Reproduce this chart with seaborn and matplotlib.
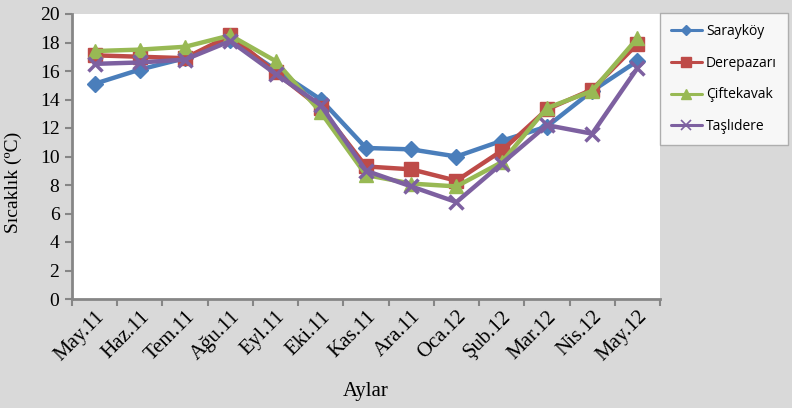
import numpy as np
import pandas as pd
import matplotlib
matplotlib.use("Agg")
import matplotlib.pyplot as plt
import seaborn as sns

months = ["May.11", "Haz.11", "Tem.11", "Ağu.11", "Eyl.11", "Eki.11", "Kas.11",
          "Ara.11", "Oca.12", "Şub.12", "Mar.12", "Nis.12", "May.12"]
saraykoy = [15.1, 16.1, 16.9, 18.2, 16.1, 14.0, 10.6, 10.5, 10.0, 11.1, 12.1, 14.6, 16.7]
derepazari = [17.1, 17.0, 16.9, 18.5, 15.9, 13.4, 9.3, 9.1, 8.3, 10.4, 13.3, 14.7, 17.9]
ciftekavak = [17.4, 17.5, 17.7, 18.5, 16.7, 13.1, 8.7, 8.1, 7.9, 9.6, 13.4, 14.6, 18.3]
tasli = [16.5, 16.6, 16.8, 18.1, 15.8, 13.6, 9.0, 7.9, 6.8, 9.5, 12.2, 11.6, 16.2]

series_names = ["Sarayköy", "Derepazarı", "Çiftekavak", "Taşlıdere"]
series_vals = [saraykoy, derepazari, ciftekavak, tasli]
colors = ["#4A7EBB", "#BE4B48", "#98B954", "#7D60A0"]
markers = ["D", "s", "^", "x"]
msizes = [8, 10, 10, 10]

sns.set_style("white")
plt.rcParams["font.family"] = ["Liberation Serif", "DejaVu Serif"]
plt.rcParams["text.color"] = "black"
plt.rcParams["xtick.color"] = "black"
plt.rcParams["ytick.color"] = "black"
plt.rcParams["axes.labelcolor"] = "black"

fig = plt.figure(figsize=(7.92, 4.08), dpi=100)
fig.patch.set_facecolor("#D9D9D9")
ax = fig.add_axes([72 / 792, 1 - 299 / 408, (660 - 72) / 792, (299 - 14) / 408])
ax.set_facecolor("white")

rows = []
for name, vals in zip(series_names, series_vals):
    for i, v in enumerate(vals):
        rows.append({"pos": i, "month": months[i], "station": name, "value": v})
df = pd.DataFrame(rows)

handles = []
for name, col, mk, ms in zip(series_names, colors, markers, msizes):
    sub = df[df["station"] == name]
    sns.lineplot(data=sub, x="pos", y="value", ax=ax, color=col, linewidth=3.2,
                 marker=mk, markersize=ms, markeredgecolor=col,
                 markeredgewidth=2.5 if mk == "x" else 1, legend=False)
    h, = ax.plot([], [], color=col, linewidth=2.2, marker=mk,
                 markersize=ms * 0.7, markeredgecolor=col,
                 markeredgewidth=1.2 if mk == "x" else 1, label=name)
    handles.append(h)

ax.set_xlim(-0.5, len(months) - 0.5)
ax.set_ylim(0, 20)
ax.set_yticks(range(0, 21, 2))
ax.set_xticks(np.arange(len(months)))
ax.set_xticklabels(months, rotation=45, ha="right", rotation_mode="anchor")
ax.set_xticks(np.arange(-0.5, len(months), 1.0), minor=True)
ax.tick_params(axis="x", which="major", length=0, labelsize=15, pad=6)
ax.tick_params(axis="x", which="minor", length=5, color="#868686", width=1.5, direction="out")
ax.tick_params(axis="y", length=5, color="#868686", width=1.5, direction="out", labelsize=14, pad=4)
ax.yaxis.set_ticks_position("left")
ax.xaxis.set_ticks_position("bottom")

for s in ["top", "right"]:
    ax.spines[s].set_visible(False)
for s in ["left", "bottom"]:
    ax.spines[s].set_color("#868686")
    ax.spines[s].set_linewidth(2)

ax.set_xlabel("Aylar", fontsize=15)
ax.set_ylabel("Sıcaklık (ºC)", fontsize=14)
ax.xaxis.set_label_coords(0.5, -0.29)
ax.yaxis.set_label_coords(-0.085, 0.41)

leg = fig.legend(handles=handles, loc="upper left", bbox_to_anchor=(660 / 792, 1 - 13 / 408),
                 frameon=True, fancybox=False, edgecolor="#A0A0A0", facecolor="white",
                 prop={"family": ["Open Sans", "DejaVu Sans"], "size": 10},
                 handlelength=2.2, handletextpad=0.3, labelspacing=1.2,
                 borderpad=0.8, borderaxespad=0)
leg.get_frame().set_linewidth(1)
for t in leg.get_texts():
    t.set_color("black")

fig.savefig("out.png", dpi=100, facecolor=fig.get_facecolor())
